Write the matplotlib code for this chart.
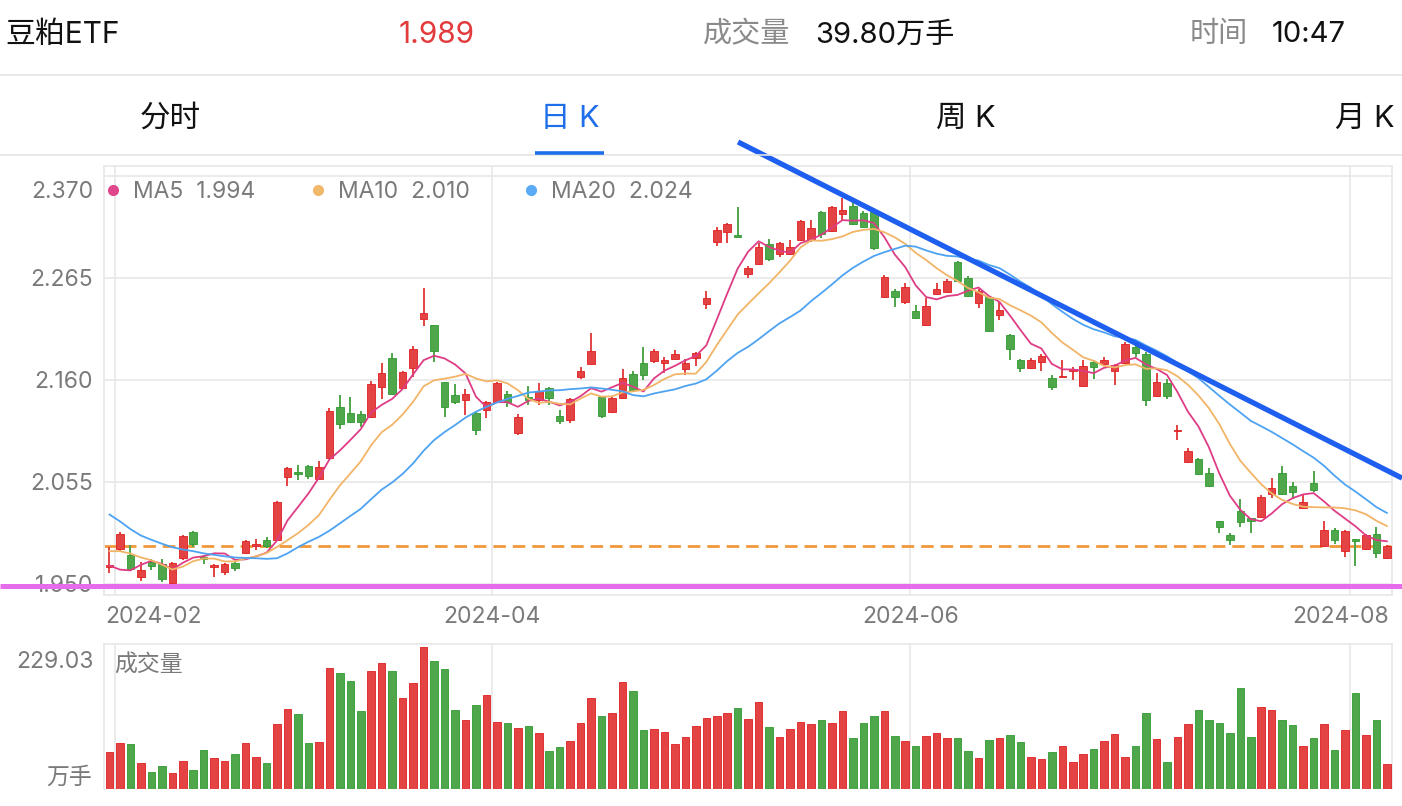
import matplotlib
matplotlib.use('Agg')
import matplotlib.pyplot as plt
import matplotlib.transforms as mtransforms
from matplotlib.lines import Line2D
import numpy as np

plt.rcParams['font.family'] = ['Inter', 'Noto Sans CJK SC', 'DejaVu Sans']

# ---------------- data ----------------
# trading-day index: -1 = 2024-01-31, 0 = 2024-02-01 ... 121 = 2024-08-06
day_index = list(range(-1, 122))

opens = [1.968, 1.986, 1.980, 1.957, 1.973, 1.971, 1.951, 1.977, 2.004, 1.977,
         1.968, 1.962, 1.972, 1.982, 1.989, 1.995, 1.995, 2.060, 2.065, 2.071,
         2.058, 2.080, 2.132, 2.126, 2.125, 2.122, 2.153, 2.183, 2.152, 2.172,
         2.223, 2.217, 2.158, 2.145, 2.139, 2.126, 2.129, 2.137, 2.146, 2.105,
         2.143, 2.139, 2.152, 2.123, 2.119, 2.163, 2.176, 2.142, 2.127, 2.141,
         2.166, 2.178, 2.180, 2.177, 2.182, 2.171, 2.183, 2.238, 2.302, 2.312,
         2.309, 2.269, 2.279, 2.300, 2.290, 2.290, 2.304, 2.304, 2.333, 2.313,
         2.331, 2.339, 2.332, 2.333, 2.245, 2.252, 2.240, 2.231, 2.217, 2.249,
         2.251, 2.281, 2.265, 2.239, 2.245, 2.227, 2.206, 2.181, 2.172, 2.179,
         2.162, 2.163, 2.169, 2.154, 2.179, 2.176, 2.169, 2.177, 2.194, 2.187,
         2.144, 2.157, 2.107, 2.076, 2.079, 2.064, 2.015, 2.000, 2.025, 2.018,
         2.019, 2.043, 2.064, 2.051, 2.028, 2.054, 1.989, 2.006, 1.984, 1.996,
         1.986, 2.001, 1.977]
highs = [1.988, 2.004, 1.990, 1.973, 1.976, 1.976, 1.973, 2.000, 2.005, 1.980,
         1.971, 1.972, 1.974, 1.995, 1.996, 1.998, 2.035, 2.070, 2.072, 2.073,
         2.077, 2.131, 2.145, 2.142, 2.128, 2.159, 2.177, 2.188, 2.169, 2.195,
         2.255, 2.217, 2.158, 2.156, 2.151, 2.127, 2.138, 2.158, 2.149, 2.125,
         2.154, 2.157, 2.153, 2.129, 2.141, 2.173, 2.208, 2.143, 2.142, 2.171,
         2.169, 2.194, 2.192, 2.184, 2.191, 2.182, 2.189, 2.252, 2.318, 2.322,
         2.338, 2.277, 2.301, 2.305, 2.302, 2.304, 2.325, 2.325, 2.334, 2.339,
         2.347, 2.343, 2.334, 2.335, 2.268, 2.254, 2.260, 2.237, 2.244, 2.260,
         2.264, 2.283, 2.267, 2.254, 2.246, 2.241, 2.207, 2.182, 2.183, 2.187,
         2.165, 2.181, 2.173, 2.181, 2.181, 2.184, 2.176, 2.199, 2.198, 2.189,
         2.167, 2.161, 2.114, 2.090, 2.080, 2.069, 2.015, 2.003, 2.038, 2.018,
         2.042, 2.059, 2.071, 2.055, 2.042, 2.066, 2.015, 2.008, 2.006, 1.996,
         2.001, 2.009, 1.990]
lows = [1.961, 1.984, 1.963, 1.953, 1.964, 1.952, 1.950, 1.975, 1.988, 1.971,
        1.957, 1.959, 1.963, 1.981, 1.985, 1.987, 1.994, 2.051, 2.057, 2.058,
        2.058, 2.079, 2.110, 2.116, 2.112, 2.121, 2.140, 2.145, 2.151, 2.163,
        2.216, 2.179, 2.122, 2.135, 2.124, 2.103, 2.121, 2.136, 2.132, 2.103,
        2.134, 2.134, 2.134, 2.115, 2.116, 2.161, 2.176, 2.121, 2.126, 2.140,
        2.149, 2.160, 2.178, 2.167, 2.182, 2.165, 2.174, 2.233, 2.298, 2.301,
        2.306, 2.265, 2.278, 2.283, 2.287, 2.289, 2.303, 2.302, 2.306, 2.312,
        2.325, 2.320, 2.317, 2.294, 2.244, 2.235, 2.238, 2.223, 2.216, 2.248,
        2.250, 2.261, 2.245, 2.234, 2.209, 2.222, 2.181, 2.168, 2.171, 2.169,
        2.150, 2.163, 2.160, 2.153, 2.161, 2.175, 2.155, 2.176, 2.184, 2.133,
        2.143, 2.140, 2.098, 2.075, 2.062, 2.050, 2.002, 1.990, 2.009, 2.003,
        2.018, 2.039, 2.042, 2.037, 2.027, 2.045, 1.988, 1.991, 1.978, 1.969,
        1.985, 1.977, 1.976]
closes = [1.970, 2.001, 1.965, 1.964, 1.969, 1.955, 1.972, 1.999, 1.991, 1.976,
          1.970, 1.971, 1.966, 1.994, 1.991, 1.989, 2.034, 2.069, 2.063, 2.061,
          2.070, 2.128, 2.115, 2.117, 2.117, 2.156, 2.167, 2.146, 2.168, 2.192,
          2.229, 2.190, 2.132, 2.137, 2.146, 2.109, 2.137, 2.157, 2.137, 2.122,
          2.139, 2.149, 2.141, 2.118, 2.140, 2.169, 2.190, 2.123, 2.141, 2.162,
          2.150, 2.165, 2.190, 2.181, 2.187, 2.178, 2.188, 2.244, 2.314, 2.321,
          2.307, 2.275, 2.297, 2.285, 2.301, 2.297, 2.324, 2.316, 2.310, 2.338,
          2.335, 2.321, 2.318, 2.296, 2.266, 2.245, 2.256, 2.224, 2.236, 2.254,
          2.262, 2.262, 2.246, 2.252, 2.210, 2.232, 2.192, 2.172, 2.181, 2.185,
          2.153, 2.164, 2.171, 2.174, 2.173, 2.181, 2.175, 2.197, 2.188, 2.139,
          2.158, 2.144, 2.109, 2.087, 2.063, 2.051, 2.009, 1.995, 2.014, 2.015,
          2.040, 2.049, 2.043, 2.045, 2.034, 2.047, 2.006, 1.995, 2.005, 1.994,
          2.000, 1.982, 1.989]
# closes of the 19 sessions before the first visible one (needed for the moving averages)
pre_closes = [2.141, 2.125, 2.096, 2.057, 2.035, 2.044, 2.047, 2.025, 2.022, 2.000,
              2.001, 1.990, 2.004, 1.997, 2.001, 2.022, 1.969, 1.935, 1.949]
# volume, 万手
volumes = [59.2, 73.7, 73.1, 41.4, 28.0, 37.6, 25.8, 45.7, 30.6, 62.4,
           49.5, 45.7, 56.5, 73.7, 52.1, 42.5, 104.3, 128.5, 121.5, 74.7,
           75.8, 194.6, 187.7, 173.7, 125.3, 190.9, 202.7, 189.8, 146.2, 170.4,
           229.03, 206.5, 193.0, 128.0, 111.3, 135.0, 152.2, 107.5, 105.9, 97.9,
           101.6, 89.8, 61.8, 67.7, 78.0, 105.9, 146.8, 117.8, 123.1, 173.1,
           158.1, 95.2, 97.3, 92.5, 72.6, 84.4, 101.6, 114.0, 118.3, 122.1,
           130.1, 113.4, 139.8, 100.6, 84.4, 96.2, 108.1, 105.4, 110.8, 105.9,
           126.4, 82.8, 107.0, 117.2, 125.3, 84.9, 77.4, 69.4, 85.5, 89.8,
           81.7, 81.7, 61.8, 50.5, 79.0, 81.7, 87.1, 75.8, 51.6, 48.4,
           59.7, 69.4, 43.6, 56.5, 64.0, 78.0, 88.7, 51.6, 69.4, 122.6,
           81.2, 44.1, 84.4, 104.8, 126.9, 111.3, 105.9, 89.8, 163.5, 83.3,
           131.7, 126.9, 110.8, 102.7, 69.4, 82.8, 104.3, 62.9, 95.2, 155.4,
           87.1, 110.8, 39.80]

month_labels = ['2024-02', '2024-04', '2024-06', '2024-08']
month_start_index = [0, 36, 76, 118]          # first session of each month
price_ticks = [2.370, 2.265, 2.160, 2.055, 1.950]
ma_periods = [5, 10, 20]
ma_legend_values = ['1.994', '2.010', '2.024']
last_price = 1.989
support_level = 1.948
trend_x = [59.03, 122.45]                     # hand-drawn trend line (index, price)
trend_y = [2.405, 2.059]
vol_max_label = '229.03'

# ---------------- styling ----------------
W, H = 1402, 806
RED, GREEN = '#E34343', '#4FA64B'
RED_E, GREEN_E = '#E01F1F', '#2F9A2F'
GRID = '#E8E8E8'
GREY_TXT = '#7A7A7A'
MA_COLORS = ['#DE3D86', '#F2B466', '#4DA3F2']
DOT_COLORS = ['#E0468C', '#F0B868', '#5AAAF5']
FS = 16.5

fig = plt.figure(figsize=(W / 100, H / 100), dpi=100)
fig.patch.set_facecolor('white')


def fx(x):
    return x / W


def fy(y):
    return 1 - y / H


ax = fig.add_axes([fx(104), fy(595), fx(1392) - fx(104), fy(166) - fy(595)])
axv = fig.add_axes([fx(104), fy(789), fx(1392) - fx(104), fy(644) - fy(789)])

idx = np.array(day_index, dtype=float)
o = np.array(opens); h = np.array(highs); l = np.array(lows); c = np.array(closes)
up = c >= o
cols = np.where(up, RED, GREEN)
ecols = np.where(up, RED_E, GREEN_E)

px_per_unit = 102 / 0.105
ax.set_xlim(-1.525, 121.49)
ax.set_ylim(1.950 - 11 / px_per_unit, 1.950 + 418 / px_per_unit)
axv.set_xlim(-1.525, 121.49)
vmax = max(volumes)
axv.set_ylim(0, vmax * 145 / 142)

grid_x = [m - 0.5 for m in month_start_index]
for a in (ax, axv):
    a.set_xticks([]); a.set_yticks([])
    for s in a.spines.values():
        s.set_color(GRID); s.set_linewidth(1.2)
    for gx in grid_x:
        a.axvline(gx, color=GRID, lw=1.2, zorder=0)
axv.spines['bottom'].set_visible(False)
for p in price_ticks:
    ax.axhline(p, color=GRID, lw=1.2, zorder=0)

# candles
ax.vlines(idx, l, h, colors=cols, lw=1.4, zorder=3)
body_h = np.maximum(np.abs(c - o), 0.0013)
ax.bar(idx, body_h, bottom=np.minimum(o, c), width=0.72, color=cols,
       edgecolor=ecols, linewidth=0.6, zorder=4)

# moving averages
all_close = np.array(pre_closes + closes)
for n, col in zip(ma_periods, MA_COLORS):
    m = np.convolve(all_close, np.ones(n) / n, mode='valid')[-len(closes):]
    ax.plot(idx, m, color=col, lw=1.3, zorder=5)

# last-price dashed line
ax.axhline(last_price, color='#F0983A', lw=2.0, dashes=(4.5, 2.5), zorder=2.5)

# support line across full width
blend = mtransforms.blended_transform_factory(fig.transFigure, ax.transData)
ax.plot([0, 1], [support_level, support_level], transform=blend, color='#E56CEB',
        lw=3.6, solid_capstyle='butt', clip_on=False, zorder=10)

# trend line
ax.plot(trend_x, trend_y, color='#1F5FF0', lw=3.8, solid_capstyle='butt',
        clip_on=False, zorder=10)

# price labels
ytrans = ax.get_yaxis_transform()
for p in price_ticks:
    off = -14 if p == max(price_ticks) else 0
    t = mtransforms.offset_copy(ytrans, fig=fig, x=-11 * 0.72, y=off * 0.72, units='points')
    ax.text(0, p, f'{p:.3f}', transform=t, ha='right', va='center_baseline',
            fontsize=FS, color=GREY_TXT, zorder=3)

# month labels
xtrans = ax.get_xaxis_transform()
ylab = -0.0466
for k, (lab, gx) in enumerate(zip(month_labels, grid_x)):
    if k == 0:
        ax.text(0.001, ylab, lab, transform=ax.transAxes, ha='left', va='center_baseline',
                fontsize=FS, color=GREY_TXT)
    elif k == len(month_labels) - 1:
        ax.text(0.998, ylab, lab, transform=ax.transAxes, ha='right', va='center_baseline',
                fontsize=FS, color=GREY_TXT)
    else:
        ax.text(gx, ylab, lab, transform=xtrans, ha='center', va='center_baseline',
                fontsize=FS, color=GREY_TXT)

# legend
legend_x = [113, 318, 531]
for k, n in enumerate(ma_periods):
    fig.add_artist(Line2D([fx(legend_x[k])], [fy(190)], marker='o', markersize=7,
                          color=DOT_COLORS[k], transform=fig.transFigure, lw=0))
    fig.text(fx(legend_x[k] + 20), fy(190), f'MA{n}  {ma_legend_values[k]}',
             ha='left', va='center_baseline', fontsize=FS, color=GREY_TXT)

# volume bars
axv.bar(idx, volumes, width=0.72, color=cols, edgecolor=ecols, linewidth=0.6, zorder=3)
fig.text(fx(94), fy(660), vol_max_label, ha='right', va='center_baseline', fontsize=FS, color=GREY_TXT)
fig.text(fx(92), fy(775), '万手', ha='right', va='center_baseline', fontsize=FS, color=GREY_TXT)
fig.text(fx(114), fy(663), '成交量', ha='left', va='center_baseline', fontsize=FS, color=GREY_TXT)

# header
hy = 32
fig.text(fx(5), fy(hy), '豆粕ETF', ha='left', va='center_baseline', fontsize=21.5, color='#111111')
fig.text(fx(437), fy(hy), f'{last_price:.3f}', ha='center', va='center_baseline', fontsize=21.5, color='#E23B3B')
fig.text(fx(703), fy(hy), '成交量', ha='left', va='center_baseline', fontsize=21, color='#8A8A8A')
fig.text(fx(815), fy(hy), f'{volumes[-1]:.2f}万手', ha='left', va='center_baseline', fontsize=21, color='#111111')
fig.text(fx(1190), fy(hy), '时间', ha='left', va='center_baseline', fontsize=21, color='#8A8A8A')
fig.text(fx(1272), fy(hy), '10:47', ha='left', va='center_baseline', fontsize=21, color='#111111')

fig.add_artist(Line2D([0, 1], [fy(75), fy(75)], color='#E6E6E6', lw=1.2, transform=fig.transFigure))
fig.add_artist(Line2D([0, 1], [fy(155), fy(155)], color='#E6E6E6', lw=1.2, transform=fig.transFigure))

tabs = ['分时', '日 K', '周 K', '月 K']
tab_x = [170, 570, 966, 1365]
for k, (t, x) in enumerate(zip(tabs, tab_x)):
    fig.text(fx(x), fy(116), t, ha='center', va='center_baseline', fontsize=22,
             color='#1F6FEB' if k == 1 else '#111111')
fig.add_artist(Line2D([fx(535), fx(604)], [fy(152.5), fy(152.5)], color='#1F6FEB', lw=2.6,
                      solid_capstyle='butt', transform=fig.transFigure))

fig.savefig('out.png', dpi=100, facecolor='white')
